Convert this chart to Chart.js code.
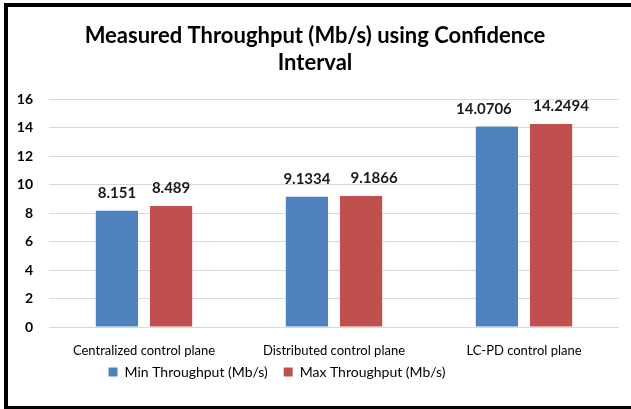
<!DOCTYPE html>
<html lang="en">
<head>
  <meta charset="UTF-8">
  <title>Measured Throughput</title>
  <script src="https://cdn.jsdelivr.net/npm/chart.js"></script>
  <style>
    body {
      margin: 0;
      background: #fff;
      font-family: Lato, sans-serif;
    }
    #wrap {
      position: relative;
      width: 631px;
      height: 409px;
      overflow: hidden;
    }
    #frame {
      position: absolute;
      left: 4px;
      top: 3px;
      width: 700px;
      height: 399px;
      border-left: 4px solid #000;
      border-top: 4px solid #000;
      border-bottom: 4px solid #000;
      pointer-events: none;
    }
  </style>
</head>
<body>
  <div id="wrap">
    <canvas id="tpChart" width="631" height="409"></canvas>
    <div id="frame"></div>
  </div>

  <script>
    const categories = ['Centralized control plane', 'Distributed control plane', 'LC-PD control plane'];
    const minThroughput = [8.151, 9.1334, 14.0706];
    const maxThroughput = [8.489, 9.1866, 14.2494];
    const minLabels = ['8.151', '9.1334', '14.0706'];
    const maxLabels = ['8.489', '9.1866', '14.2494'];
    const yTicks = [0, 2, 4, 6, 8, 10, 12, 14, 16];

    // value labels above the bars; some were dragged sideways in the original
    const valueLabels = {
      id: 'valueLabels',
      afterDatasetsDraw(chart, args, opts) {
        const ctx = chart.ctx;
        ctx.save();
        ctx.font = 'bold 15px Lato, sans-serif';
        ctx.fillStyle = '#1a1a1a';
        ctx.textAlign = 'center';
        ctx.textBaseline = 'bottom';
        chart.data.datasets.forEach((ds, i) => {
          const meta = chart.getDatasetMeta(i);
          const nudge = (opts.nudge && opts.nudge[i]) || [];
          meta.data.forEach((bar, j) => {
            ctx.fillText(ds.valueText[j], bar.x + (nudge[j] || 0), bar.y - 10);
          });
        });
        ctx.restore();
      }
    };

    // the legend in the original sits a bit left of centre and close to the axis labels
    const legendShift = {
      id: 'legendShift',
      afterLayout(chart) {
        const lg = chart.legend;
        lg.left -= 38;
        lg.right -= 38;
        lg.top -= 10;
        lg.bottom -= 10;
      }
    };

    new Chart(document.getElementById('tpChart'), {
      type: 'bar',
      data: {
        labels: categories,
        datasets: [{
          label: 'Min Throughput (Mb/s)',
          data: minThroughput,
          valueText: minLabels,
          backgroundColor: '#4F81BD',
          barPercentage: 0.78,
          categoryPercentage: 0.57
        }, {
          label: 'Max Throughput (Mb/s)',
          data: maxThroughput,
          valueText: maxLabels,
          backgroundColor: '#C0504D',
          barPercentage: 0.78,
          categoryPercentage: 0.57
        }]
      },
      options: {
        responsive: false,
        animation: false,
        layout: {
          padding: { left: 11, right: 12, top: 0, bottom: 10 }
        },
        plugins: {
          title: {
            display: true,
            text: ['Measured Throughput (Mb/s) using Confidence', 'Interval'],
            color: '#000',
            font: { family: 'Lato, sans-serif', size: 22, weight: 'bold', lineHeight: 1.25 },
            padding: { top: 22, bottom: 22 }
          },
          legend: {
            position: 'bottom',
            labels: {
              color: '#000',
              font: { family: 'Lato, sans-serif', size: 14 },
              boxWidth: 9,
              boxHeight: 9,
              padding: 16
            }
          },
          tooltip: { enabled: false },
          valueLabels: {
            nudge: [[0, 0, -13], [0, 13, 10]]
          }
        },
        scales: {
          x: {
            afterFit: (scale) => {
              scale.height = 32;
            },
            grid: { display: false, drawTicks: false },
            border: { display: false },
            ticks: {
              color: '#000',
              font: { family: 'Lato, sans-serif', size: 13 },
              padding: 16
            }
          },
          y: {
            min: 0,
            max: 16,
            afterBuildTicks: (scale) => {
              scale.ticks = yTicks.map(v => ({ value: v }));
            },
            afterFit: (scale) => {
              scale.width = 38;
            },
            grid: { color: '#d9d9d9', drawTicks: false },
            border: { display: false },
            ticks: {
              color: '#000',
              font: { family: 'Lato, sans-serif', size: 14, weight: 'bold' },
              padding: 16
            }
          }
        }
      },
      plugins: [valueLabels, legendShift]
    });
  </script>
</body>
</html>
